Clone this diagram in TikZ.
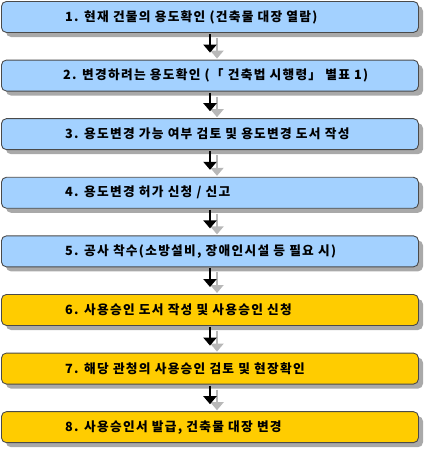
\documentclass[tikz,border=0pt]{standalone}
\usepackage{fontspec}
\setmainfont{Noto Sans CJK KR}[LetterSpace=10]
\usetikzlibrary{arrows.meta}
\definecolor{boxblue}{HTML}{A3D1FF}
\definecolor{boxyellow}{HTML}{FFCC00}
\definecolor{shadowgray}{HTML}{A9A9A9}
\definecolor{arrowgray}{HTML}{B8B8B8}
\definecolor{edgegray}{HTML}{4A4A4A}
\tikzset{
  stepbox/.style={draw=edgegray, line width=0.9pt, rounded corners=5pt, minimum width=417pt, minimum height=31pt, inner sep=0pt, anchor=north west},
  boxshadow/.style={fill=shadowgray, rounded corners=5pt},
  steptext/.style={anchor=west, inner sep=0pt, font=\fontsize{12.7}{14}\selectfont\bfseries},
  flowarrow/.style={line width=2.6pt, -{Triangle[length=8pt,width=13pt]}},
  flowshadow/.style={draw=arrowgray, line width=2.6pt, -{Triangle[length=8pt,width=13pt, fill=arrowgray]}},
}
\begin{document}
\begin{tikzpicture}[x=1pt,y=-1pt]
\useasboundingbox (0,0) rectangle (426,453);
\foreach \i/\c in {0/boxblue,1/boxblue,2/boxblue,3/boxblue,4/boxblue,5/boxyellow,6/boxyellow,7/boxyellow}{
  \pgfmathsetmacro{\t}{1+58.6*\i}
  \fill[boxshadow] (6,\t+5) rectangle (423,\t+36);
  \node[stepbox, fill=\c] (b\i) at (1,\t) {};
}
\node[steptext] (t0) at ([xshift=64pt]b0.west) {1. 현재 건물의 용도확인 (건축물 대장 열람)};
\node[steptext] (t1) at ([xshift=62pt]b1.west) {2. 변경하려는 용도확인 (「 건축법 시행령」 별표 1)};
\node[steptext] (t2) at ([xshift=64pt]b2.west) {3. 용도변경 가능 여부 검토 및 용도변경 도서 작성};
\node[steptext] (t3) at ([xshift=64pt]b3.west) {4. 용도변경 허가 신청 / 신고};
\node[steptext] (t4) at ([xshift=64pt]b4.west) {5. 공사 착수(소방설비, 장애인시설 등 필요 시)};
\node[steptext] (t5) at ([xshift=64pt]b5.west) {6. 사용승인 도서 작성 및 사용승인 신청};
\node[steptext] (t6) at ([xshift=64pt]b6.west) {7. 해당 관청의 사용승인 검토 및 현장확인};
\node[steptext] (t7) at ([xshift=64pt]b7.west) {8. 사용승인서 발급, 건축물 대장 변경};
\foreach \i [evaluate=\i as \j using int(\i+1)] in {0,...,6}{
  \draw[flowshadow] ([xshift=216pt,yshift=-5pt]b\i.south west) -- ([xshift=216pt,yshift=1pt]b\j.north west);
  \draw[flowarrow] ([xshift=209pt,yshift=-1pt]b\i.south west) -- ([xshift=209pt,yshift=7pt]b\j.north west);
}
\end{tikzpicture}
\end{document}
